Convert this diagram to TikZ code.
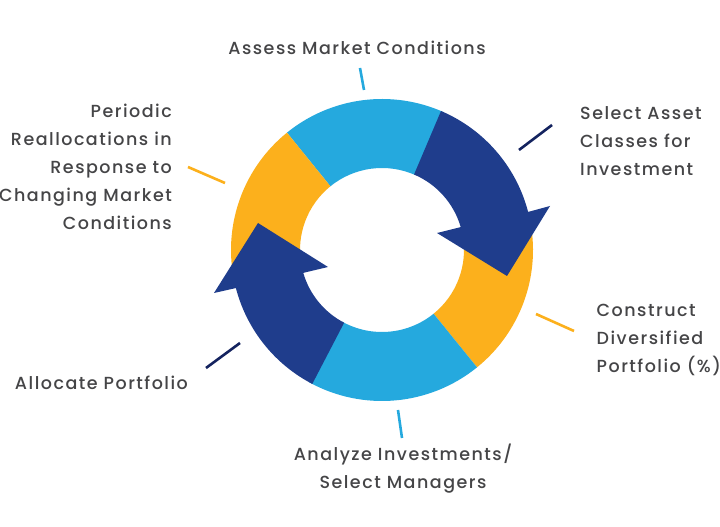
\documentclass[tikz,border=0pt]{standalone}
\usetikzlibrary{calc}
\usepackage{fontspec}
\setmainfont{Poppins Medium}[LetterSpace=8.5]
\definecolor{navy}{HTML}{1F3D8C}
\definecolor{sky}{HTML}{25A9DE}
\definecolor{amber}{HTML}{FCB01C}
\definecolor{inktext}{HTML}{454547}
\definecolor{darktick}{HTML}{14235F}
\tikzset{
  lbl/.style={inner sep=0pt,text=inktext,font=\fontsize{17.5}{28}\selectfont},
  tick/.style={line width=2.6pt},
}
\begin{document}
\begin{tikzpicture}[x=1pt,y=1pt]
\useasboundingbox (0,0) rectangle (720,527);
\fill[white] (0,0) rectangle (720,527);
\coordinate (c) at (382,277);
% ring segments
\fill[sky] ($(c)+(129:151)$) arc (129:66:151) -- ($(c)+(66:82)$) arc (66:129:82) -- cycle;
\fill[amber] ($(c)+(129:151)$) arc (129:190:151) -- ($(c)+(190:82)$) arc (190:129:82) -- cycle;
\fill[amber] ($(c)+(-51:151)$) arc (-51:10:151) -- ($(c)+(10:82)$) arc (10:-51:82) -- cycle;
\fill[sky] ($(c)+(-51:151)$) arc (-51:-119:151) -- ($(c)+(-119:82)$) arc (-119:-51:82) -- cycle;
% arrows
\fill[navy] ($(c)+(67:151)$) arc (67:14.6:151) -- (550,321) -- (507,251) -- (437,294) -- ($(c)+(16.2:82)$)
  arc (16.2:67:82) -- cycle;
\fill[navy] ($(c)+(-117.5:151)$) arc (-117.5:-165.4:151) -- (214,234) -- (258,304) -- (328,260) -- ($(c)+(-163.8:82)$)
  arc (-163.8:-117.5:82) -- cycle;
% ticks
\coordinate (t1a) at (360,459); \coordinate (t1b) at (364,437);
\coordinate (t2a) at (519,377); \coordinate (t2b) at (552,402);
\coordinate (t3a) at (536,213); \coordinate (t3b) at (574,196);
\coordinate (t4a) at (398,117); \coordinate (t4b) at (402,89);
\coordinate (t5a) at (206,159); \coordinate (t5b) at (240,184);
\coordinate (t6a) at (188,360); \coordinate (t6b) at (225,344);
\draw[tick,sky] (t1a) -- (t1b);
\draw[tick,darktick] (t2a) -- (t2b);
\draw[tick,amber] (t3a) -- (t3b);
\draw[tick,sky] (t4a) -- (t4b);
\draw[tick,darktick] (t5a) -- (t5b);
\draw[tick,amber] (t6a) -- (t6b);
% labels
\node[lbl] (assess) at (357,479.5) {Assess Market Conditions};
\node[lbl,align=left,anchor=west] (select) at (580,385.5) {Select Asset\\Classes for\\Investment};
\node[lbl,align=left,anchor=west] (construct) at (596.5,187) {Construct\\Diversified\\Portfolio (\%)};
\node[lbl,align=center] (analyze) at (403,58) {Analyze Investments/\\Select Managers};
\node[lbl,anchor=east] (allocate) at (188,144.5) {Allocate Portfolio};
\node[lbl,align=right,anchor=east] (periodic) at (172,360) {Periodic\\Reallocations in\\Response to\\Changing Market\\Conditions};
\end{tikzpicture}
\end{document}
